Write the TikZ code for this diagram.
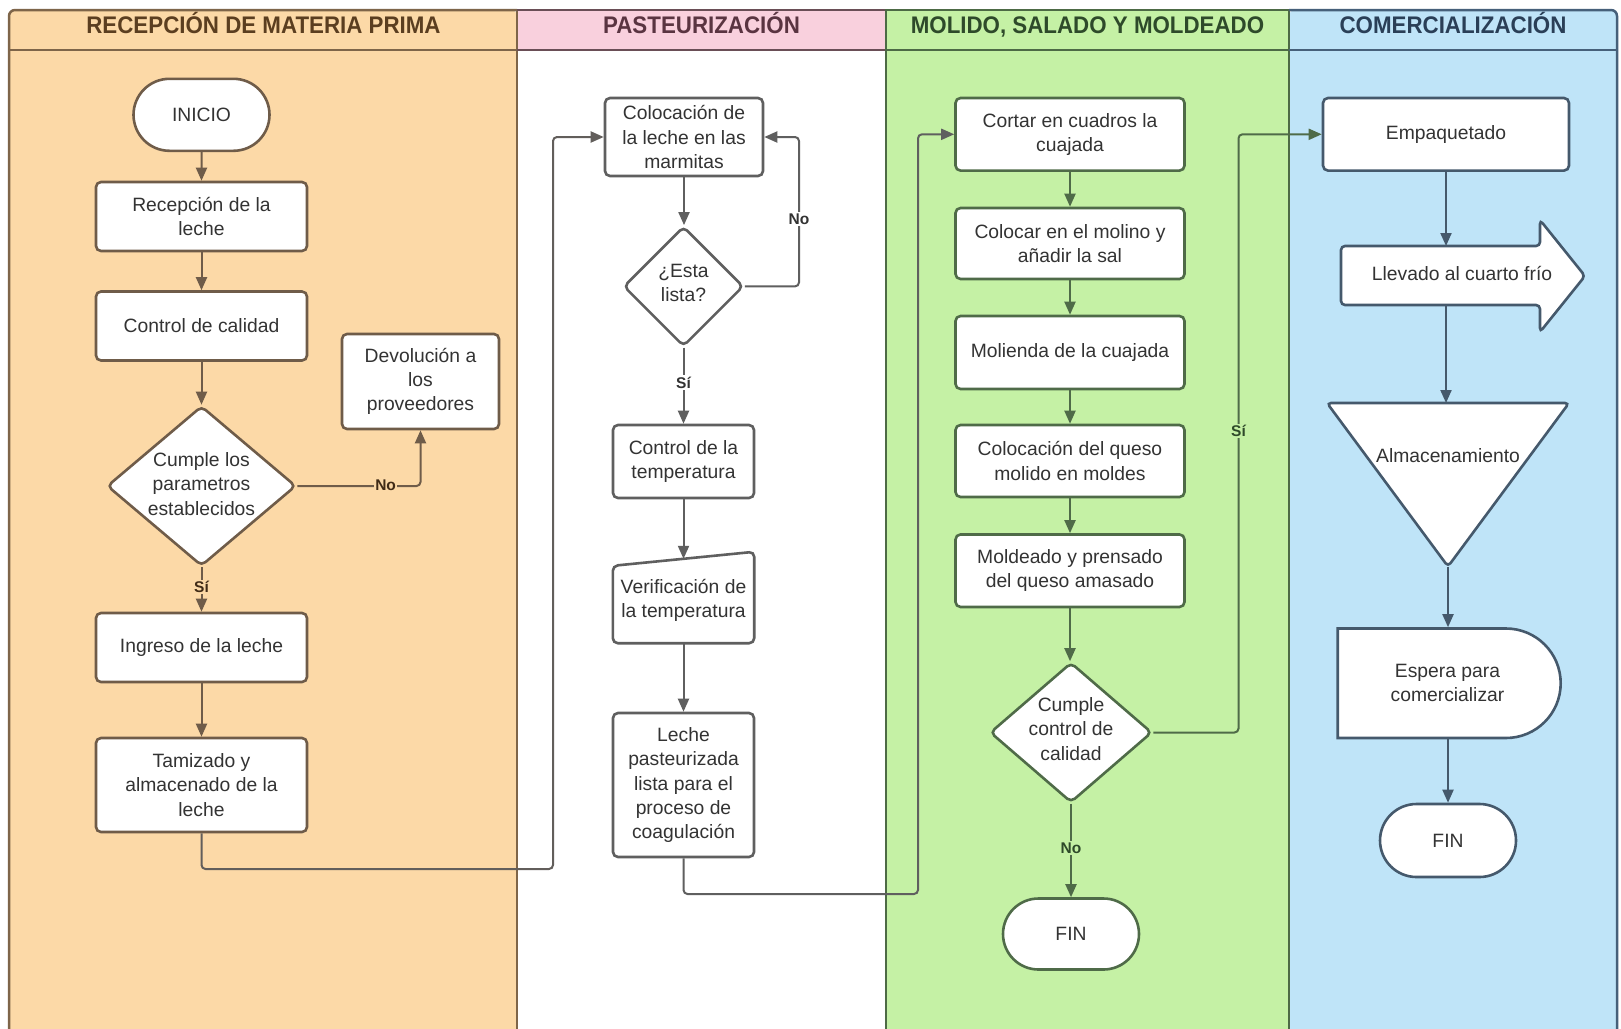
\documentclass[tikz,border=0pt]{standalone}
\usepackage{fontspec}
\usepackage{graphicx}
\setmainfont{Liberation Sans}
\usetikzlibrary{shapes.geometric,shapes.misc,arrows.meta,calc}

% lane palette
\definecolor{laneA}{HTML}{FCD9A7}
\definecolor{laneAline}{HTML}{7E6549}
\definecolor{laneAtext}{HTML}{5B3E20}
\definecolor{nodeA}{HTML}{6F5C49}
\definecolor{laneBhead}{HTML}{F9D0DD}
\definecolor{laneBline}{HTML}{6A4E56}
\definecolor{laneBtext}{HTML}{5A3441}
\definecolor{nodeB}{HTML}{5F5F5F}
\definecolor{laneC}{HTML}{C5F1A5}
\definecolor{laneCline}{HTML}{4D6A45}
\definecolor{laneCtext}{HTML}{2E4A2A}
\definecolor{nodeC}{HTML}{4F6B48}
\definecolor{laneD}{HTML}{BFE4F8}
\definecolor{laneDline}{HTML}{46607A}
\definecolor{laneDtext}{HTML}{2A3F57}
\definecolor{nodeD}{HTML}{45596C}
\definecolor{txtc}{HTML}{333333}

\begin{document}
\begin{tikzpicture}[x=1pt, y=-1pt,
  txt/.style={font=\fontsize{19.3}{24.3}\selectfont, text=txtc, align=center},
  shp/.style={txt, draw, fill=white, line width=2.6pt, inner sep=2pt},
  box/.style={shp, rounded corners=5pt},
  term/.style={shp, rounded rectangle},
  dec/.style={draw, fill=white, shape=diamond, line width=2.6pt, rounded corners=5pt, inner sep=0pt},
  flow/.style={line width=2pt, rounded corners=4pt, -{Triangle[length=13pt,width=11pt]}},
  lbl/.style={font=\fontsize{15.5}{18}\selectfont\bfseries, inner sep=1.5pt},
  head/.style={font=\fontsize{24}{28}\selectfont\bfseries, anchor=base},
  lanebd/.style={line width=2.5pt},
]
\useasboundingbox (0,0) rectangle (1621,1028);
\clip (0,0) rectangle (1621,1028);
\fill[white] (0,0) rectangle (1621,1028);

% ---- swimlanes ----
\fill[laneA, rounded corners=6pt] (9,1040) |- (517,10) -- (517,1040) -- cycle;
\fill[laneBhead] (517,10) rectangle (886,50);
\fill[laneC] (886,10) rectangle (1289,1040);
\fill[laneD, rounded corners=6pt] (1289,1040) |- (1617,10) -- (1617,1040) -- cycle;

\draw[laneAline, lanebd, rounded corners=6pt] (9,1040) |- (517,10);
\draw[laneAline, lanebd] (517,10) -- (517,1040) (9,50) -- (517,50);
\draw[laneBline, lanebd] (517,10) -- (886,10) (517,50) -- (886,50);
\draw[laneCline, lanebd] (886,1040) |- (1289,10) (886,50) -- (1289,50) (1289,10) -- (1289,1040);
\draw[laneDline, lanebd, rounded corners=6pt] (1289,10) -| (1617,1040);
\draw[laneDline, lanebd] (1289,50) -- (1617,50);

\node[head, text=laneAtext] (hA) at (263.5,33.5) {\scalebox{0.93}[1]{RECEPCIÓN DE MATERIA PRIMA}};
\node[head, text=laneBtext] (hB) at (701.5,33.5) {\scalebox{0.93}[1]{PASTEURIZACIÓN}};
\node[head, text=laneCtext] (hC) at (1087.5,33.5) {\scalebox{0.93}[1]{MOLIDO, SALADO Y MOLDEADO}};
\node[head, text=laneDtext] (hD) at (1453,33.5) {\scalebox{0.93}[1]{COMERCIALIZACIÓN}};

% ---- reception of raw material ----
\begin{scope}[every node/.append style={draw=nodeA}]
\node[term, minimum width=140pt, minimum height=72pt] (inicio) at (201.5,114.8) {INICIO};
\node[box, minimum width=211pt, minimum height=69pt] (recep) at (201.5,216.5) {Recepción de la\\leche};
\node[box, minimum width=211pt, minimum height=69pt] (ctrl) at (201.5,326) {Control de calidad};
\node[dec, minimum width=189pt, minimum height=160pt] (d1) at (201.5,486) {};
\node[box, minimum width=157pt, minimum height=95pt] (devol) at (420.5,381.5) {Devolución a\\los\\proveedores};
\node[box, minimum width=211pt, minimum height=69pt] (ingreso) at (201.5,647.5) {Ingreso de la leche};
\node[box, minimum width=211pt, minimum height=94pt] (tamiz) at (201.5,785) {Tamizado y\\almacenado de la\\leche};
\end{scope}
\node[txt] (d1t) at (201.5,484) {Cumple los\\parametros\\establecidos};

% ---- pasteurization ----
\begin{scope}[every node/.append style={draw=nodeB}]
\node[box, minimum width=158pt, minimum height=78pt] (coloc) at (684,137) {Colocación de\\la leche en las\\marmitas};
\node[dec, minimum width=120pt, minimum height=120pt] (d2) at (683.5,286.4) {};
\node[box, minimum width=141pt, minimum height=73pt] (ctemp) at (683.5,461.5) {Control de la\\temperatura};
\node[box, minimum width=141pt, minimum height=144pt] (leche) at (683.5,785) {Leche\\pasteurizada\\lista para el\\proceso de\\coagulación};
\end{scope}
\node[txt] (d2t) at (683.5,283) {¿Esta\\lista?};
% manual input shape: the node carries the text, the outline has a sloped top
\node[txt, minimum width=141pt, minimum height=91pt, inner sep=2pt] (verif) at (683.5,597.5) {};
\draw[nodeB, fill=white, line width=2.6pt, rounded corners=5pt] (verif.south west) -- (verif.south east) -- (verif.north east) -- ($(verif.north west)+(0,14)$) -- cycle;
\node[txt] (veriftext) at ($(verif.center)+(0,3)$) {Verificación de\\la temperatura};
\coordinate (verifin) at ($(verif.north)+(0,7)$);

% ---- grinding, salting, moulding ----
\begin{scope}[every node/.append style={draw=nodeC}]
\node[box, minimum width=229pt, minimum height=72.6pt] (cortar) at (1070,134.3) {Cortar en cuadros la\\cuajada};
\node[box, minimum width=229pt, minimum height=71pt] (molino) at (1070,243.5) {Colocar en el molino y\\añadir la sal};
\node[box, minimum width=229pt, minimum height=73pt] (molienda) at (1070,352.5) {Molienda de la cuajada};
\node[box, minimum width=229pt, minimum height=72pt] (colq) at (1070,461) {Colocación del queso\\molido en moldes};
\node[box, minimum width=229pt, minimum height=72.5pt] (mold) at (1070,570.7) {Moldeado y prensado\\del queso amasado};
\node[dec, minimum width=162pt, minimum height=140pt] (d3) at (1071,732.5) {};
\node[term, minimum width=140pt, minimum height=71pt] (fin3) at (1071,934) {FIN};
\end{scope}
\node[txt] (d3t) at (1071,729) {Cumple\\control de\\calidad};

% ---- commercialisation ----
\begin{scope}[every node/.append style={draw=nodeD}]
\node[box, minimum width=246pt, minimum height=72.6pt] (empaq) at (1446,134.3) {Empaquetado};
\node[term, rounded rectangle west arc=none, minimum width=227pt, minimum height=109.5pt] (espera) at (1447.5,683.25) {Espera para\\comercializar};
\node[term, minimum width=140pt, minimum height=73pt] (fin4) at (1448,840.5) {FIN};
\end{scope}
% block arrow
\draw[nodeD, fill=white, line width=2.6pt, rounded corners=4pt]
  (1341,246) -- (1540,246) -- (1540,220) -- (1585,276) -- (1540,332) -- (1540,305) -- (1341,305) -- cycle;
\node[txt] (llev) at (1462,273) {Llevado al cuarto frío};
\coordinate (llevin) at (1446,246);
\coordinate (llevout) at (1446,305);
% storage triangle
\draw[nodeD, fill=white, line width=2.6pt, rounded corners=4pt]
  (1327,403) -- (1569,403) -- (1448,566.5) -- cycle;
\node[txt] (almac) at (1448,456) {Almacenamiento};
\coordinate (almin) at (1446,403);
\coordinate (almout) at (1448,566.5);

% ---- connectors ----
\begin{scope}[nodeA]
\draw[flow] (inicio) -- (recep);
\draw[flow] (recep) -- (ctrl);
\draw[flow] (ctrl) -- (d1);
\draw[flow] (d1.east) -| (devol.south);
\draw[flow] (d1.south) -- (ingreso.north);
\draw[flow] (ingreso) -- (tamiz);
\end{scope}
\draw[flow, nodeB!80!nodeA] (tamiz.south) |- (553,869) |- (coloc.west);

\begin{scope}[nodeB]
\draw[flow] (coloc.south) -- (coloc.south |- d2.north);
\draw[flow] (d2.east) -- (799,286.4) |- (coloc.east);
\draw[flow] (d2.south) -- (ctemp.north);
\draw[flow] (ctemp.south) -- (verifin);
\draw[flow] (verif.south) -- (leche.north);
\draw[flow] (leche.south) |- (918,894) |- (cortar.west);
\end{scope}

\begin{scope}[nodeC]
\draw[flow] (cortar) -- (molino);
\draw[flow] (molino) -- (molienda);
\draw[flow] (molienda) -- (colq);
\draw[flow] (colq) -- (mold);
\draw[flow] (mold.south) -- (mold.south |- d3.north);
\draw[flow] (d3.south) -- (fin3.north);
\draw[flow] (d3.east) -- (1238.5,732.5) |- (empaq.west);
\end{scope}

\begin{scope}[nodeD]
\draw[flow] (empaq.south) -- (llevin);
\draw[flow] (llevout) -- (almin);
\draw[flow] (almout) -- (almout |- espera.north);
\draw[flow] (espera.south -| fin4) -- (fin4.north);
\end{scope}

% ---- branch labels ----
\node[lbl, fill=laneA, text=laneAtext!70!black] (noA) at (385.6,485) {No};
\node[lbl, fill=laneA, text=laneAtext!70!black] (siA) at (201.5,587) {Sí};
\node[lbl, fill=white, text=txtc] (noB) at (799,219) {No};
\node[lbl, fill=white, text=txtc] (siB) at (683.5,382.5) {Sí};
\node[lbl, fill=laneC, text=laneCtext] (siC) at (1238.5,431) {Sí};
\node[lbl, fill=laneC, text=laneCtext] (noC) at (1071,848) {No};
\end{tikzpicture}
\end{document}
